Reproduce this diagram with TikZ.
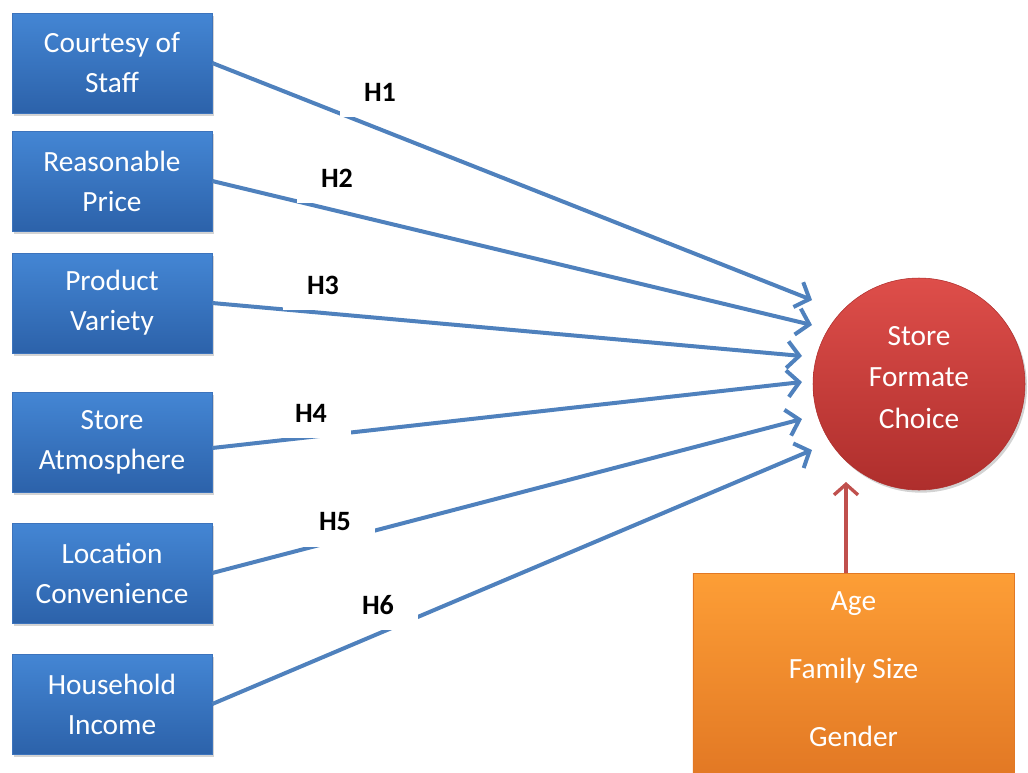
\documentclass[tikz,border=0pt]{standalone}
\usepackage{fontspec}
\setmainfont{Carlito}
\usetikzlibrary{arrows.meta,positioning,shadows}
\definecolor{boxtop}{RGB}{68,134,212}
\definecolor{boxbot}{RGB}{44,98,170}
\definecolor{boxedge}{RGB}{60,115,188}
\definecolor{linkblue}{RGB}{79,129,189}
\definecolor{circtop}{RGB}{222,78,74}
\definecolor{circbot}{RGB}{174,46,44}
\definecolor{ctxtop}{RGB}{253,158,54}
\definecolor{ctxbot}{RGB}{226,120,36}
\definecolor{modred}{RGB}{192,80,77}

\begin{document}
\begin{tikzpicture}[
    x=0.75pt, y=-0.75pt,
    factor/.style={rectangle, draw=boxedge, top color=boxtop, bottom color=boxbot,
        minimum width=150pt, minimum height=75pt, align=center, text=white,
        font=\fontsize{22}{30}\selectfont,
        drop shadow={opacity=0.35, shadow xshift=1.5pt, shadow yshift=-2pt}},
    hyp/.style={fill=white, minimum width=60pt, minimum height=37pt, inner sep=0pt,
        font=\fontsize{21}{24}\selectfont\bfseries},
    link/.style={linkblue, line width=3pt, -{Straight Barb[length=9pt, width=20pt, line width=3pt]}}
]
    \useasboundingbox (0,0) rectangle (1028,772);
    \clip (0,0) rectangle (1028,772);

    \node[factor] (b1) at (112,63) {Courtesy of\\Staff};
    \node[factor] (b2) at (112,181) {Reasonable\\Price};
    \node[factor] (b3) at (112,303) {Product\\Variety};
    \node[factor] (b4) at (112,442) {Store\\Atmosphere};
    \node[factor] (b5) at (112,573) {Location\\Convenience};
    \node[factor] (b6) at (112,704) {Household\\Income};

    \node[circle, draw=circbot, top color=circtop, bottom color=circbot,
        minimum size=159pt, align=center, text=white, font=\fontsize{22}{31}\selectfont,
        text depth=10pt,
        drop shadow={opacity=0.35, shadow xshift=1.5pt, shadow yshift=-2pt}]
        (sfc) at (919,384) {Store\\Formate\\Choice};

    \node[rectangle, draw=ctxbot, top color=ctxtop, bottom color=ctxbot,
        minimum width=241pt, minimum height=153pt, align=center, text=white,
        font=\fontsize{22}{30}\selectfont, text depth=9pt] (ctx) at (853.5,675)
        {Age\\[21pt]Family Size\\[21pt]Gender};

    % arrow tips in front of the circle
    \coordinate (t1) at (812,300);
    \coordinate (t2) at (812,325);
    \coordinate (t3) at (802,356);
    \coordinate (t4) at (802,382);
    \coordinate (t5) at (802,419);
    \coordinate (t6) at (812,450);
    \coordinate (tm) at (846,482);

    \draw[link] (b1.east) -- (t1);
    \draw[link] (b2.east) -- (t2);
    \draw[link] (b3.east) -- (t3);
    \draw[link] ([yshift=-4.5pt]b4.east) -- (t4);
    \draw[link] (b5.east) -- (t5);
    \draw[link] (b6.east) -- (t6);

    \draw[modred, line width=2.5pt, -{Straight Barb[length=8pt, width=18pt, line width=2.5pt]}]
        (ctx.north -| tm) -- (tm);

    \node[hyp] (h1) at (380,92) {H1};
    \node[hyp] (h2) at (337,178) {H2};
    \node[hyp] (h3) at (323,285) {H3};
    \node[hyp] (h4) at (311,413) {H4};
    \node[hyp] (h5) at (335,522) {H5};
    \node[hyp] (h6) at (378,605) {H6};
\end{tikzpicture}
\end{document}
